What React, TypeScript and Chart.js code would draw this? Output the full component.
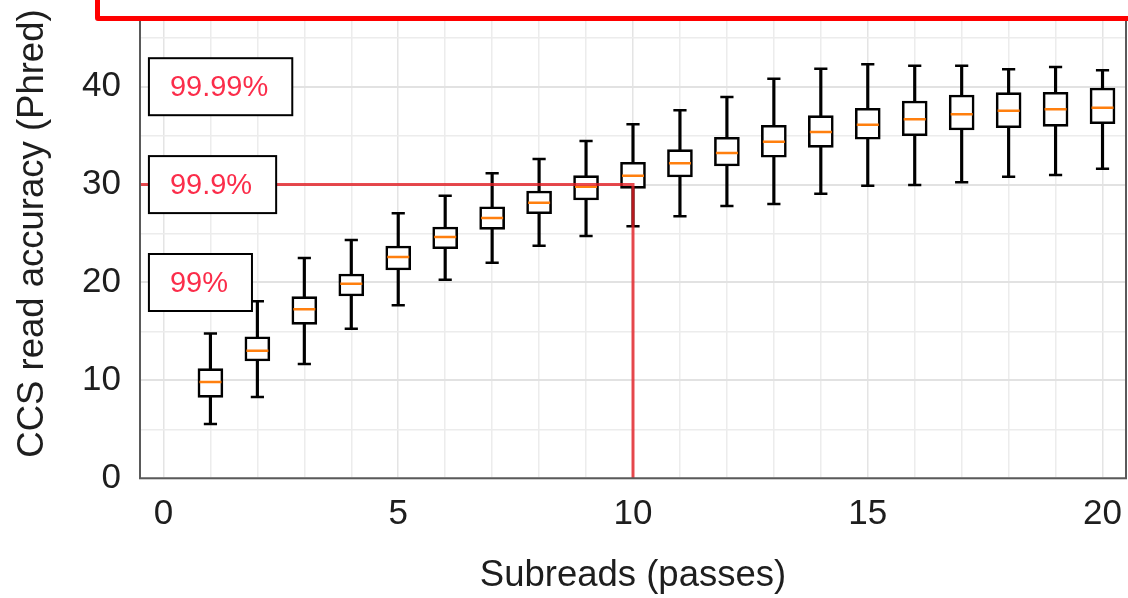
import React, { useEffect, useRef } from 'react';
import { Chart, registerables } from 'chart.js';

Chart.register(...registerables);

// ---- data ----
const passes = [1, 2, 3, 4, 5, 6, 7, 8, 9, 10, 11, 12, 13, 14, 15, 16, 17, 18, 19, 20];
const whiskerLow = [5.55, 8.3, 11.67, 15.28, 17.67, 20.29, 22.02, 23.76, 24.75, 25.74, 26.76, 27.81, 28.02, 29.07, 29.89, 29.96, 30.23, 30.81, 30.98, 31.62];
const q1 = [8.27, 11.98, 15.73, 18.62, 21.28, 23.45, 25.43, 27.03, 28.43, 29.62, 30.78, 31.9, 32.79, 33.81, 34.63, 35.0, 35.58, 35.81, 35.95, 36.22];
const median = [9.84, 13.03, 17.26, 19.88, 22.6, 24.65, 26.59, 28.15, 29.79, 30.91, 32.18, 33.23, 34.38, 35.37, 36.12, 36.67, 37.18, 37.55, 37.69, 37.86];
const q3 = [11.2, 14.46, 18.55, 20.87, 23.73, 25.67, 27.74, 29.35, 30.91, 32.28, 33.57, 34.83, 36.06, 37.04, 37.79, 38.54, 39.15, 39.39, 39.43, 39.87];
const whiskerHigh = [14.8, 18.08, 22.5, 24.34, 27.07, 28.87, 31.15, 32.62, 34.45, 36.16, 37.59, 38.95, 40.82, 41.84, 42.29, 42.15, 42.15, 41.78, 42.01, 41.68];

const xGridValues = [0, 1, 2, 3, 4, 5, 6, 7, 8, 9, 10, 11, 12, 13, 14, 15, 16, 17, 18, 19, 20];
const xLabelledTicks = [0, 5, 10, 15, 20];
const yLabelledTicks = [0, 10, 20, 30, 40, 50];

const accuracyLevels = [20, 30, 40];
const accuracyLabels = ['99%', '99.9%', '99.99%'];
const thresholdPasses = 10;
const thresholdQ = 30;

const xTitle = 'Subreads (passes)';
const yTitle = 'CCS read accuracy (Phred)';

const FONT = '"Liberation Sans", Arial, sans-serif';

const overlayPlugin = {
  id: 'overlay',
  afterDraw(chart: any) {
    const { ctx, chartArea, scales } = chart;
    const x = scales.x;
    const y = scales.y;
    ctx.save();
    // axes frame
    ctx.strokeStyle = '#5a5a5a';
    ctx.lineWidth = 2;
    ctx.strokeRect(chartArea.left, chartArea.top, chartArea.right - chartArea.left, chartArea.bottom - chartArea.top);

    // accuracy annotation boxes
    ctx.font = `29px ${FONT}`;
    accuracyLevels.forEach((lv, i) => {
      const text = accuracyLabels[i];
      const tw = ctx.measureText(text).width;
      const left = x.getPixelForValue(-0.31);
      const cy = y.getPixelForValue(lv);
      const w = tw + 45;
      const h = 57;
      ctx.fillStyle = '#ffffff';
      ctx.fillRect(left, cy - h / 2, w, h);
      ctx.strokeStyle = '#000000';
      ctx.lineWidth = 2;
      ctx.strokeRect(left, cy - h / 2, w, h);
      ctx.fillStyle = '#fb2d4a';
      ctx.textAlign = 'left';
      ctx.textBaseline = 'middle';
      ctx.fillText(text, left + 21, cy + 1);
    });
    ctx.restore();
  },
};

export default function App() {
  const canvasRef = useRef<HTMLCanvasElement | null>(null);

  useEffect(() => {
    if (!canvasRef.current) return;
    Chart.defaults.font.family = FONT;

    const chart = new Chart(canvasRef.current, {
      type: 'bar',
      data: {
        datasets: [
          {
            type: 'line',
            label: 'threshold',
            data: [
              { x: -0.5, y: thresholdQ },
              { x: thresholdPasses, y: thresholdQ },
              { x: thresholdPasses, y: 0 },
            ],
            borderColor: 'rgba(228,30,36,0.8)',
            borderWidth: 3,
            pointRadius: 0,
            tension: 0,
            fill: false,
            order: 0,
          } as any,
          {
            type: 'scatter',
            label: 'median',
            data: passes.map((p, i) => ({ x: p, y: median[i] })),
            pointStyle: 'line',
            pointRadius: 11,
            borderColor: '#ff7f0e',
            backgroundColor: '#ff7f0e',
            pointBorderWidth: 2.5,
            borderWidth: 2.5,
            order: 1,
          } as any,
          {
            type: 'scatter',
            label: 'caps',
            data: [
              ...passes.map((p, i) => ({ x: p, y: whiskerLow[i] })),
              ...passes.map((p, i) => ({ x: p, y: whiskerHigh[i] })),
            ],
            pointStyle: 'line',
            pointRadius: 6.6,
            borderColor: '#000000',
            backgroundColor: '#000000',
            pointBorderWidth: 2.5,
            borderWidth: 2.5,
            order: 2,
          } as any,
          {
            type: 'bar',
            label: 'box',
            data: passes.map((p, i) => ({ x: p, y: [q1[i], q3[i]] })),
            backgroundColor: '#ffffff',
            borderColor: '#000000',
            borderWidth: 2.6,
            borderSkipped: false,
            barThickness: 25,
            grouped: false,
            order: 3,
          } as any,
          {
            type: 'bar',
            label: 'whisker',
            data: passes.map((p, i) => ({ x: p, y: [whiskerLow[i], whiskerHigh[i]] })),
            backgroundColor: '#000000',
            borderWidth: 0,
            barThickness: 2.5,
            grouped: false,
            order: 4,
          } as any,
        ],
      },
      options: {
        animation: false,
        responsive: false,
        events: [],
        layout: { autoPadding: false, padding: { top: 28.8, right: 2, left: 0, bottom: 0 } },
        plugins: {
          legend: { display: false },
          tooltip: { enabled: false },
          title: { display: false },
        },
        scales: {
          x: {
            type: 'linear',
            min: -0.5,
            max: 20.5,
            offset: false,
            afterBuildTicks: (scale: any) => {
              scale.ticks = xGridValues.map((v) => ({ value: v }));
            },
            afterFit: (scale: any) => {
              scale.height = 119.7;
              scale.paddingLeft = 0;
              scale.paddingRight = 0;
            },
            ticks: {
              autoSkip: false,
              maxRotation: 0,
              padding: 15,
              color: '#1e1e1e',
              font: { size: 35, family: FONT },
              callback: (v: any) => (xLabelledTicks.includes(Number(v)) ? String(v) : ''),
            },
            grid: {
              offset: false,
              drawTicks: false,
              color: (c: any) => (c.tick && c.tick.value % 5 === 0 ? '#e4e4e4' : '#ececec'),
              lineWidth: 1.5,
            },
            border: { display: false },
            title: {
              display: true,
              text: xTitle,
              color: '#1e1e1e',
              font: { size: 36.5, family: FONT },
              padding: { top: 0, bottom: 0 },
            },
          },
          y: {
            type: 'linear',
            min: 0,
            max: 50,
            ticks: {
              stepSize: 5,
              padding: 19,
              color: '#1e1e1e',
              font: { size: 35, family: FONT },
              callback: (v: any) => (yLabelledTicks.includes(Number(v)) ? String(v) : ''),
            },
            afterFit: (scale: any) => {
              scale.width = 140;
              scale.paddingTop = 0;
              scale.paddingBottom = 0;
            },
            grid: {
              drawTicks: false,
              color: (c: any) => (c.tick && c.tick.value % 10 === 0 ? '#e2e2e2' : '#ececec'),
              lineWidth: (c: any) => (c.tick && c.tick.value % 10 === 0 ? 2 : 1.5),
            },
            border: { display: false },
            title: {
              display: true,
              text: yTitle,
              color: '#1e1e1e',
              font: { size: 36.5, family: FONT },
              padding: { top: 11, bottom: 0 },
            },
          },
        },
      } as any,
      plugins: [overlayPlugin],
    });

    return () => chart.destroy();
  }, []);

  return (
    <div
      style={{
        position: 'fixed',
        left: 0,
        top: 0,
        width: 1128,
        height: 598,
        overflow: 'hidden',
        background: '#ffffff',
      }}
    >
      <div style={{ position: 'absolute', left: 0, top: -40, width: 1128, height: 638 }}>
        <canvas ref={canvasRef} width={1128} height={638} style={{ width: 1128, height: 638, display: 'block' }} />
      </div>
      <div
        style={{
          position: 'absolute',
          left: 95,
          top: -100,
          width: 1100,
          height: 120.5,
          boxSizing: 'border-box',
          border: '5px solid #ff0000',
          borderRadius: 3,
          background: '#ffffff',
        }}
      />
    </div>
  );
}
